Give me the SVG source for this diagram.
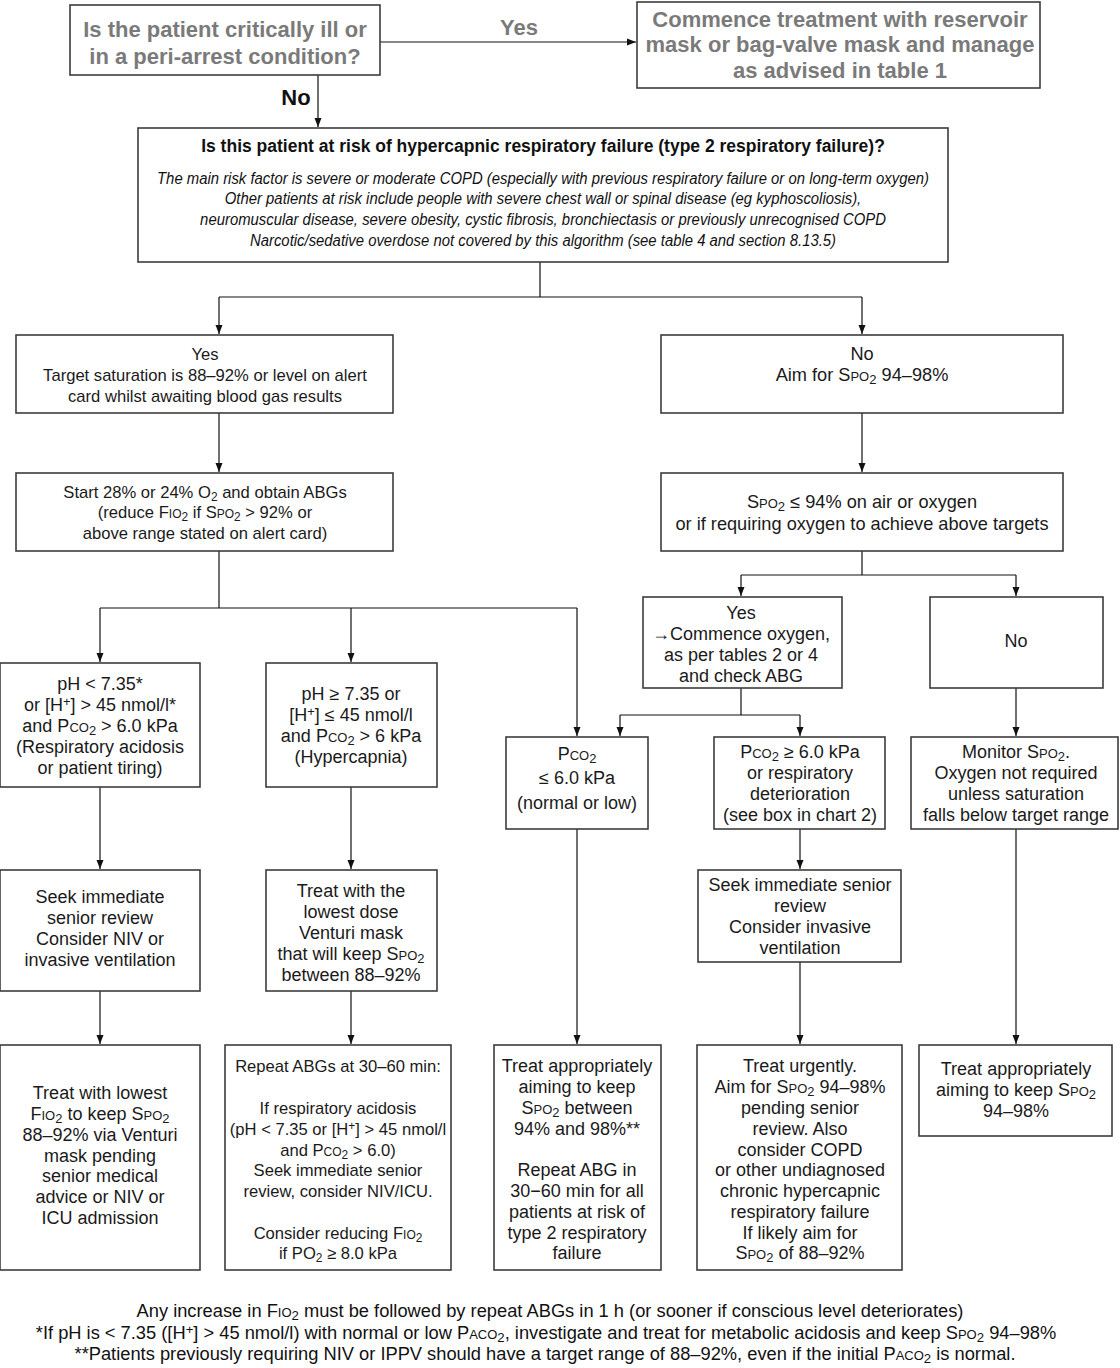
<svg xmlns="http://www.w3.org/2000/svg" width="1120" height="1368" viewBox="0 0 1120 1368">
<defs>
<marker id="ah" markerWidth="10" markerHeight="8" refX="9" refY="4" orient="auto" markerUnits="userSpaceOnUse">
<path d="M0,0.5 L9,4 L0,7.5 z" fill="#111"/>
</marker>
<style>
.b{fill:#fff;stroke:#3c3c3c;stroke-width:1.6}
.c{fill:none;stroke:#111;stroke-width:1.2}
.a{marker-end:url(#ah)}
.t{font-family:"Liberation Sans",Arial,sans-serif;font-size:16.6px;text-anchor:middle;fill:#1a1a1a}
.t18{font-size:18px}
.t185{font-size:18.2px}
.n{font-family:"Liberation Sans Narrow","Liberation Sans",Arial,sans-serif;font-stretch:condensed;font-size:18px;text-anchor:middle;fill:#1a1a1a}
.g{font-family:"Liberation Sans Narrow","Liberation Sans",Arial,sans-serif;font-stretch:condensed;font-weight:bold;font-size:22px;text-anchor:middle;fill:#7a7a7a}
.h{font-family:"Liberation Sans Narrow","Liberation Sans",Arial,sans-serif;font-stretch:condensed;font-weight:bold;font-size:17.5px;text-anchor:middle;fill:#111}
.i{font-family:"Liberation Sans Narrow","Liberation Sans",Arial,sans-serif;font-stretch:condensed;font-style:italic;font-size:17px;text-anchor:middle;fill:#111}
.f{font-family:"Liberation Sans Narrow","Liberation Sans",Arial,sans-serif;font-stretch:condensed;font-size:18.3px;text-anchor:middle;fill:#111}
.sc{font-variant:small-caps}
.sb{font-size:72%;baseline-shift:-3px}
.sp{font-size:72%;baseline-shift:5px}
</style>
</defs>

<g id="connectors">
<path class="c a" d="M380,42 H636"/>
<path class="c a" d="M318,75 V127"/>
<path class="c" d="M540,262 V297 M219,297 H862"/>
<path class="c a" d="M219,297 V334"/>
<path class="c a" d="M862,297 V334"/>
<path class="c a" d="M219,413 V472"/>
<path class="c a" d="M862,413 V472"/>
<path class="c" d="M219,551 V608 M100,608 H577"/>
<path class="c a" d="M100,608 V662"/>
<path class="c a" d="M351,608 V662"/>
<path class="c a" d="M577,608 V736"/>
<path class="c" d="M862,551 V575 M741,575 H1016"/>
<path class="c a" d="M741,575 V596"/>
<path class="c a" d="M1016,575 V596"/>
<path class="c" d="M741,688 V715 M620,715 H800"/>
<path class="c a" d="M620,715 V736"/>
<path class="c a" d="M800,715 V736"/>
<path class="c a" d="M1016,688 V736"/>
<path class="c a" d="M100,787 V869"/>
<path class="c a" d="M351,787 V869"/>
<path class="c a" d="M800,829 V869"/>
<path class="c a" d="M100,991 V1044"/>
<path class="c a" d="M351,991 V1044"/>
<path class="c a" d="M577,829 V1044"/>
<path class="c a" d="M800,962 V1044"/>
<path class="c a" d="M1016,829 V1044"/>
</g>

<g id="lbl-yes-top"><text class="g" x="519" y="35">Yes</text></g>
<g id="lbl-no-top"><text class="h" x="296" y="105" style="font-size:22px">No</text></g>

<g id="n-critical">
<rect class="b" x="70" y="5" width="310" height="70"/>
<text class="g" x="225" y="37">Is the patient critically ill or</text>
<text class="g" x="225" y="64">in a peri-arrest condition?</text>
</g>

<g id="n-commence">
<rect class="b" x="637" y="2" width="403" height="86"/>
<text class="g" x="840" y="27">Commence treatment with reservoir</text>
<text class="g" x="840" y="52">mask or bag-valve mask and manage</text>
<text class="g" x="840" y="78">as advised in table 1</text>
</g>

<g id="n-risk">
<rect class="b" x="138" y="128" width="810" height="134"/>
<text class="h" x="543" y="152">Is this patient at risk of hypercapnic respiratory failure (type 2 respiratory failure)?</text>
<g transform="translate(543,0) scale(0.875,1)">
<text class="i" x="0" y="184">The main risk factor is severe or moderate COPD (especially with previous respiratory failure or on long-term oxygen)</text>
<text class="i" x="0" y="204">Other patients at risk include people with severe chest wall or spinal disease (eg kyphoscoliosis),</text>
<text class="i" x="0" y="225">neuromuscular disease, severe obesity, cystic fibrosis, bronchiectasis or previously unrecognised COPD</text>
<text class="i" x="0" y="246">Narcotic/sedative overdose not covered by this algorithm (see table 4 and section 8.13.5)</text>
</g>
</g>

<g id="n-yes-target">
<rect class="b" x="16" y="335" width="377" height="78"/>
<text class="t" x="205" y="360">Yes</text>
<text class="t" x="205" y="381">Target saturation is 88–92% or level on alert</text>
<text class="t" x="205" y="402">card whilst awaiting blood gas results</text>
</g>

<g id="n-no-aim">
<rect class="b" x="661" y="335" width="402" height="78"/>
<text class="t t185" x="862" y="360">No</text>
<text class="t t185" x="862" y="381">Aim for S<tspan class="sc">po</tspan><tspan class="sb">2</tspan>  94–98%</text>
</g>

<g id="n-start">
<rect class="b" x="16" y="473" width="377" height="78"/>
<text class="t" x="205" y="498">Start 28% or 24% O<tspan class="sb">2</tspan> and obtain ABGs</text>
<text class="t" x="205" y="518">(reduce F<tspan class="sc">io</tspan><tspan class="sb">2</tspan> if S<tspan class="sc">po</tspan><tspan class="sb">2</tspan> &gt; 92% or</text>
<text class="t" x="205" y="539">above range stated on alert card)</text>
</g>

<g id="n-spo2-94">
<rect class="b" x="661" y="473" width="402" height="78"/>
<text class="t t185" x="862" y="508">S<tspan class="sc">po</tspan><tspan class="sb">2</tspan> ≤ 94% on air or oxygen</text>
<text class="t t185" x="862" y="530">or if requiring oxygen to achieve above targets</text>
</g>

<g id="n-yes-commence">
<rect class="b" x="643" y="597" width="199" height="91"/>
<text class="n" x="741" y="619">Yes</text>
<text class="n" x="741" y="640">→Commence oxygen,</text>
<text class="n" x="741" y="661">as per tables 2 or 4</text>
<text class="n" x="741" y="682">and check ABG</text>
</g>

<g id="n-no-right">
<rect class="b" x="930" y="597" width="173" height="91"/>
<text class="n" x="1016" y="647">No</text>
</g>

<g id="n-acidosis">
<rect class="b" x="0" y="663" width="200" height="124"/>
<text class="t t18" x="100" y="690">pH &lt; 7.35*</text>
<text class="t t18" x="100" y="711">or [H<tspan class="sp">+</tspan>] &gt; 45 nmol/l*</text>
<text class="t t18" x="100" y="732">and P<tspan class="sc">co</tspan><tspan class="sb">2</tspan> &gt; 6.0 kPa</text>
<text class="t t18" x="100" y="753">(Respiratory acidosis</text>
<text class="t t18" x="100" y="774">or patient tiring)</text>
</g>

<g id="n-hypercapnia">
<rect class="b" x="266" y="663" width="171" height="124"/>
<text class="t t18" x="351" y="700">pH ≥ 7.35 or</text>
<text class="t t18" x="351" y="721">[H<tspan class="sp">+</tspan>] ≤ 45 nmol/l</text>
<text class="t t18" x="351" y="742">and P<tspan class="sc">co</tspan><tspan class="sb">2</tspan> &gt; 6 kPa</text>
<text class="t t18" x="351" y="763">(Hypercapnia)</text>
</g>

<g id="n-pco2-low">
<rect class="b" x="506" y="737" width="142" height="92"/>
<text class="n" x="577" y="760">P<tspan class="sc">co</tspan><tspan class="sb">2</tspan></text>
<text class="n" x="577" y="784">≤ 6.0 kPa</text>
<text class="n" x="577" y="809">(normal or low)</text>
</g>

<g id="n-pco2-high">
<rect class="b" x="714" y="737" width="171" height="92"/>
<text class="n" x="800" y="758">P<tspan class="sc">co</tspan><tspan class="sb">2</tspan> ≥ 6.0 kPa</text>
<text class="n" x="800" y="779">or respiratory</text>
<text class="n" x="800" y="800">deterioration</text>
<text class="n" x="800" y="821">(see box in chart 2)</text>
</g>

<g id="n-monitor">
<rect class="b" x="911" y="737" width="207" height="92"/>
<text class="n" x="1016" y="758">Monitor S<tspan class="sc">po</tspan><tspan class="sb">2</tspan>.</text>
<text class="n" x="1016" y="779">Oxygen not required</text>
<text class="n" x="1016" y="800">unless saturation</text>
<text class="n" x="1016" y="821">falls below target range</text>
</g>

<g id="n-seek-niv">
<rect class="b" x="0" y="870" width="200" height="121"/>
<text class="t t18" x="100" y="903">Seek immediate</text>
<text class="t t18" x="100" y="924">senior review</text>
<text class="t t18" x="100" y="945">Consider NIV or</text>
<text class="t t18" x="100" y="966">invasive ventilation</text>
</g>

<g id="n-venturi">
<rect class="b" x="266" y="870" width="171" height="121"/>
<text class="t t18" x="351" y="897">Treat with the</text>
<text class="t t18" x="351" y="918">lowest dose</text>
<text class="t t18" x="351" y="939">Venturi mask</text>
<text class="t t18" x="351" y="960">that will keep S<tspan class="sc">po</tspan><tspan class="sb">2</tspan></text>
<text class="t t18" x="351" y="981">between 88–92%</text>
</g>

<g id="n-seek-invasive">
<rect class="b" x="698" y="870" width="203" height="92"/>
<text class="n" x="800" y="891">Seek immediate senior</text>
<text class="n" x="800" y="912">review</text>
<text class="n" x="800" y="933">Consider invasive</text>
<text class="n" x="800" y="954">ventilation</text>
</g>

<g id="n-treat-lowest">
<rect class="b" x="0" y="1045" width="200" height="225"/>
<text class="t t18" x="100" y="1099">Treat with lowest</text>
<text class="t t18" x="100" y="1120">F<tspan class="sc">io</tspan><tspan class="sb">2</tspan> to keep S<tspan class="sc">po</tspan><tspan class="sb">2</tspan></text>
<text class="t t18" x="100" y="1141">88–92% via Venturi</text>
<text class="t t18" x="100" y="1162">mask pending</text>
<text class="t t18" x="100" y="1182">senior medical</text>
<text class="t t18" x="100" y="1203">advice or NIV or</text>
<text class="t t18" x="100" y="1224">ICU admission</text>
</g>

<g id="n-repeat">
<rect class="b" x="225" y="1045" width="226" height="225"/>
<text class="t" x="338" y="1072">Repeat ABGs at 30–60 min:</text>
<text class="t" x="338" y="1114">If respiratory acidosis</text>
<text class="t" x="338" y="1135">(pH &lt; 7.35 or [H<tspan class="sp">+</tspan>] &gt; 45 nmol/l</text>
<text class="t" x="338" y="1156">and  P<tspan class="sc">co</tspan><tspan class="sb">2</tspan> &gt; 6.0)</text>
<text class="t" x="338" y="1176">Seek immediate senior</text>
<text class="t" x="338" y="1197">review, consider NIV/ICU.</text>
<text class="t" x="338" y="1239">Consider reducing F<tspan class="sc">io</tspan><tspan class="sb">2</tspan></text>
<text class="t" x="338" y="1259">if PO<tspan class="sb">2</tspan> ≥ 8.0 kPa</text>
</g>

<g id="n-treat-appr-mid">
<rect class="b" x="494" y="1045" width="167" height="225"/>
<text class="n" x="577" y="1072">Treat appropriately</text>
<text class="n" x="577" y="1093">aiming to keep</text>
<text class="n" x="577" y="1114">S<tspan class="sc">po</tspan><tspan class="sb">2</tspan> between</text>
<text class="n" x="577" y="1135">94% and 98%**</text>
<text class="n" x="577" y="1176">Repeat ABG in</text>
<text class="n" x="577" y="1197">30−60 min for all</text>
<text class="n" x="577" y="1218">patients at risk of</text>
<text class="n" x="577" y="1239">type 2 respiratory</text>
<text class="n" x="577" y="1259">failure</text>
</g>

<g id="n-treat-urgent">
<rect class="b" x="697" y="1045" width="205" height="225"/>
<text class="n" x="800" y="1072">Treat urgently.</text>
<text class="n" x="800" y="1093">Aim for S<tspan class="sc">po</tspan><tspan class="sb">2</tspan> 94–98%</text>
<text class="n" x="800" y="1114">pending senior</text>
<text class="n" x="800" y="1135">review. Also</text>
<text class="n" x="800" y="1156">consider COPD</text>
<text class="n" x="800" y="1176">or other undiagnosed</text>
<text class="n" x="800" y="1197">chronic hypercapnic</text>
<text class="n" x="800" y="1218">respiratory failure</text>
<text class="n" x="800" y="1239">If likely aim for</text>
<text class="n" x="800" y="1259">S<tspan class="sc">po</tspan><tspan class="sb">2</tspan> of 88–92%</text>
</g>

<g id="n-treat-appr-right">
<rect class="b" x="919" y="1045" width="193" height="91"/>
<text class="n" x="1016" y="1075">Treat appropriately</text>
<text class="n" x="1016" y="1096">aiming to keep S<tspan class="sc">po</tspan><tspan class="sb">2</tspan></text>
<text class="n" x="1016" y="1117">94–98%</text>
</g>

<g id="footer">
<text class="f" x="550" y="1317">Any increase in F<tspan class="sc">io</tspan><tspan class="sb">2</tspan> must be followed by repeat ABGs in 1 h (or sooner if conscious level deteriorates)</text>
<text class="f" x="546" y="1339">*If pH  is &lt; 7.35 ([H<tspan class="sp">+</tspan>] &gt; 45 nmol/l) with normal or low P<tspan class="sc">aco</tspan><tspan class="sb">2</tspan>, investigate and treat for metabolic acidosis and keep S<tspan class="sc">po</tspan><tspan class="sb">2</tspan> 94–98%</text>
<text class="f" x="545" y="1360">**Patients previously requiring NIV or IPPV should have a target range of 88–92%, even if the initial P<tspan class="sc">aco</tspan><tspan class="sb">2</tspan> is normal.</text>
</g>
</svg>
